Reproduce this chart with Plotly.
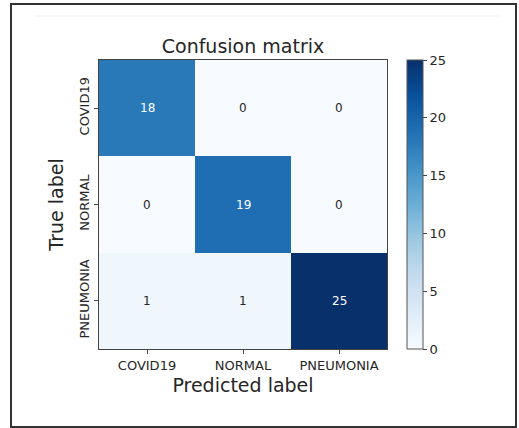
import plotly.graph_objects as go
import plotly.express as px

# ---- data ----
pred_labels = ["COVID19", "NORMAL", "PNEUMONIA"]
true_labels = ["COVID19", "NORMAL", "PNEUMONIA"]
counts = [
    [18, 0, 0],
    [0, 19, 0],
    [1, 1, 25],
]
cbar_ticks = [0, 5, 10, 15, 20, 25]

# ---- layout geometry (pixels) ----
W, H = 519, 428
PL, PR, PT, PB = 99, 387, 60, 349   # plot area box
pw, ph = PR - PL, PB - PT

FONT = "DejaVu Sans"
TXT = "#262626"
thresh = max(max(r) for r in counts) / 2.0

fig = go.Figure()
fig.add_trace(go.Heatmap(
    z=counts, x=pred_labels, y=true_labels,
    colorscale=px.colors.sequential.Blues,
    zmin=0, zmax=25,
    hoverinfo="skip",
    colorbar=dict(
        x=(407 - PL) / pw, xanchor="left", xref="paper", xpad=0,
        y=0.5, yanchor="middle", len=1.0, lenmode="fraction", ypad=0,
        thickness=16, outlinewidth=1, outlinecolor="#555555",
        tickvals=cbar_ticks, ticks="outside", ticklen=4, tickcolor="#444444",
        tickfont=dict(family=FONT, size=13, color=TXT),
    ),
))

for i, row in enumerate(counts):
    for j, v in enumerate(row):
        fig.add_annotation(
            x=pred_labels[j], y=true_labels[i], text=str(v), showarrow=False,
            font=dict(family=FONT, size=12, color="white" if v > thresh else TXT),
        )

# outer frame of the screenshot
def px2x(x):
    return (x - PL) / pw

def px2y(y):
    return (PB - y) / ph

fig.add_shape(type="rect", xref="paper", yref="paper",
              x0=px2x(11), x1=px2x(516), y0=px2y(427), y1=px2y(4),
              line=dict(color="#333333", width=2), layer="above")
fig.add_shape(type="line", xref="paper", yref="paper",
              x0=px2x(35), x1=px2x(499), y0=px2y(16), y1=px2y(16),
              line=dict(color="#eeeeee", width=1))

fig.update_layout(
    width=W, height=H,
    margin=dict(l=PL, r=W - PR, t=PT, b=H - PB, pad=0),
    paper_bgcolor="white", plot_bgcolor="white",
    font=dict(family=FONT, color=TXT),
    title=dict(text="Confusion matrix", x=243 / W, xanchor="center",
               y=1 - 46 / H, yanchor="middle",
               font=dict(family=FONT, size=19, color=TXT)),
    xaxis=dict(
        title=dict(text="Predicted label", font=dict(family=FONT, size=19, color=TXT), standoff=7),
        showline=True, mirror=True, linecolor="#444444", linewidth=1,
        ticks="outside", ticklen=4, tickcolor="#444444",
        tickfont=dict(family=FONT, size=13, color=TXT),
        showgrid=False, zeroline=False,
    ),
    yaxis=dict(
        title=dict(text="True label", font=dict(family=FONT, size=19, color=TXT), standoff=8),
        autorange="reversed",
        showline=True, mirror=True, linecolor="#444444", linewidth=1,
        ticks="outside", ticklen=4, tickcolor="#444444", tickangle=-90,
        tickfont=dict(family=FONT, size=13, color=TXT),
        showgrid=False, zeroline=False,
    ),
)

fig.write_html("out.html", config={"displayModeBar": False},
               post_script="document.body.style.margin='0';")
